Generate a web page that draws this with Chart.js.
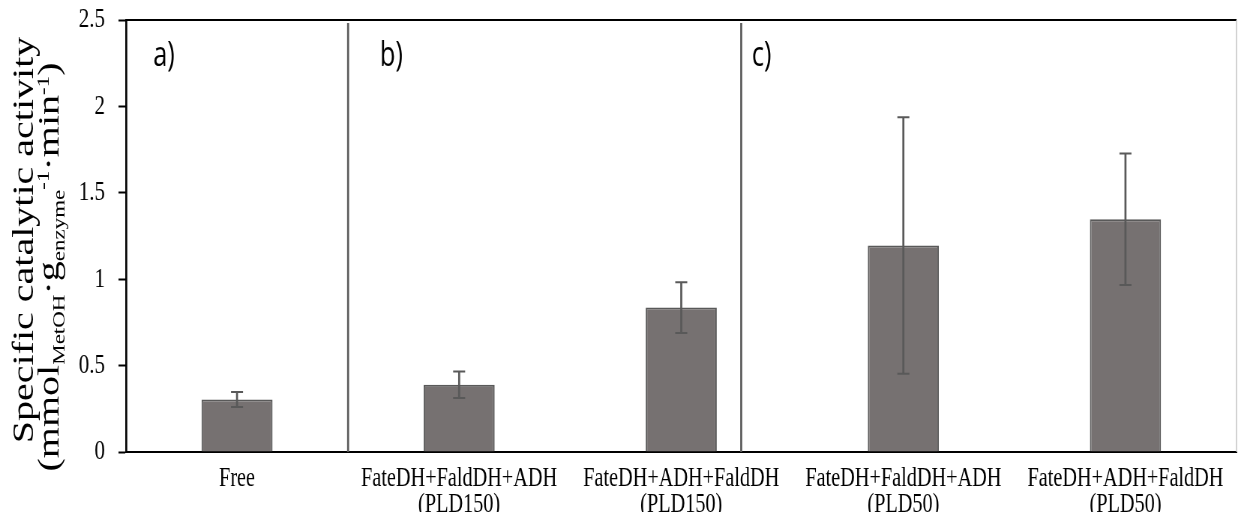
<!DOCTYPE html>
<html>
<head>
<meta charset="utf-8">
<script src="https://cdn.jsdelivr.net/npm/chart.js@4.4.1/dist/chart.umd.min.js"></script>
<style>
  body { margin: 0; background: #fff; overflow: hidden; }
</style>
</head>
<body>
<!-- drawn wide, then squeezed to 1238px like the original figure -->
<canvas id="myChart" width="1651" height="512" style="display:block;width:1238px;height:512px"></canvas>
<script>
var xValues = [
  ["Free"],
  ["FateDH+FaldDH+ADH", "(PLD150)"],
  ["FateDH+ADH+FaldDH", "(PLD150)"],
  ["FateDH+FaldDH+ADH", "(PLD50)"],
  ["FateDH+ADH+FaldDH", "(PLD50)"]
];
var yValues = [0.304, 0.389, 0.836, 1.195, 1.347];
var yErrors = [0.043, 0.077, 0.147, 0.742, 0.38];

// panel separators and letters, in category units
var panelLines = [0.5, 2.27];
var panelNames = ["a)", "b)", "c)"];
var panelNamePos = [-0.378, 0.643, 2.317];

var barColor = "#767171";
var edgeColor = "#595959";
var serif = "'Liberation Serif', 'Times New Roman', serif";

// error bars
const errorBars = {
  id: "errorBars",
  afterDatasetsDraw(chart) {
    const ctx = chart.ctx;
    const y = chart.scales.y;
    const meta = chart.getDatasetMeta(0);
    ctx.save();
    ctx.strokeStyle = edgeColor;
    meta.data.forEach((bar, i) => {
      const top = y.getPixelForValue(yValues[i] + yErrors[i]);
      const bot = y.getPixelForValue(yValues[i] - yErrors[i]);
      ctx.lineWidth = 2.7;
      ctx.beginPath();
      ctx.moveTo(bar.x, top);
      ctx.lineTo(bar.x, bot);
      ctx.stroke();
      ctx.lineWidth = 2;
      ctx.beginPath();
      ctx.moveTo(bar.x - 8, top);
      ctx.lineTo(bar.x + 8, top);
      ctx.moveTo(bar.x - 8, bot);
      ctx.lineTo(bar.x + 8, bot);
      ctx.stroke();
    });
    ctx.restore();
  }
};

// frame, panel lines and a) b) c)
const panels = {
  id: "panels",
  afterDraw(chart) {
    const ctx = chart.ctx;
    const a = chart.chartArea;
    const x = chart.scales.x;
    ctx.save();
    ctx.strokeStyle = "#000";
    ctx.lineWidth = 2;
    ctx.beginPath();
    ctx.moveTo(a.left - 1, a.top);
    ctx.lineTo(a.right, a.top);
    ctx.stroke();
    ctx.strokeStyle = "#bfbfbf";
    ctx.lineWidth = 1.4;
    ctx.beginPath();
    ctx.moveTo(a.right, a.top);
    ctx.lineTo(a.right, a.bottom);
    ctx.stroke();

    ctx.strokeStyle = edgeColor;
    ctx.lineWidth = 2.7;
    panelLines.forEach(v => {
      const px = x.getPixelForValue(v);
      ctx.beginPath();
      ctx.moveTo(px, a.top + 3);
      ctx.lineTo(px, a.bottom);
      ctx.stroke();
    });

    ctx.fillStyle = "#000";
    ctx.font = "34px 'Open Sans', sans-serif";
    ctx.textAlign = "left";
    ctx.textBaseline = "alphabetic";
    panelNames.forEach((t, i) => {
      ctx.fillText(t, x.getPixelForValue(panelNamePos[i]), a.top + 46);
    });
    ctx.restore();
  }
};

// y axis title with sub/superscripts
function drawRotated(ctx, parts, xBase, yMid) {
  ctx.save();
  ctx.translate(xBase, yMid);
  ctx.rotate(-Math.PI / 2);
  ctx.textBaseline = "alphabetic";
  ctx.textAlign = "left";
  let total = 0;
  parts.forEach(p => {
    ctx.font = p.size + "px " + serif;
    total += ctx.measureText(p.t).width;
  });
  let cx = -total / 2;
  parts.forEach(p => {
    ctx.font = p.size + "px " + serif;
    ctx.fillText(p.t, cx, p.dy);
    cx += ctx.measureText(p.t).width;
  });
  ctx.restore();
}

const yTitle = {
  id: "yTitle",
  afterDraw(chart) {
    const ctx = chart.ctx;
    ctx.save();
    ctx.fillStyle = "#000";
    drawRotated(ctx, [{t: "Specific catalytic activity", size: 40, dy: 0}], 44, 240);
    drawRotated(ctx, [
      {t: "(mmol", size: 40, dy: 0},
      {t: "MetOH", size: 23, dy: 8},
      {t: "\u00b7g", size: 40, dy: 0},
      {t: "enzyme", size: 23, dy: 8},
      {t: "-1", size: 23, dy: -13},
      {t: "\u00b7min", size: 40, dy: 0},
      {t: "-1", size: 23, dy: -13},
      {t: ")", size: 40, dy: 0}
    ], 78, 267);
    ctx.restore();
  }
};

new Chart("myChart", {
  type: "bar",
  data: {
    labels: xValues,
    datasets: [{
      data: yValues,
      backgroundColor: barColor,
      borderColor: edgeColor,
      borderWidth: 2,
      barPercentage: 0.32,
      categoryPercentage: 1
    }]
  },
  options: {
    responsive: false,
    maintainAspectRatio: false,
    devicePixelRatio: 1,
    animation: false,
    layout: {padding: {top: 20, right: 2, left: 0, bottom: 0}},
    plugins: {
      legend: {display: false},
      tooltip: {enabled: false}
    },
    scales: {
      x: {
        grid: {display: false, drawTicks: false},
        border: {display: true, color: "#000", width: 2},
        ticks: {
          color: "#000",
          font: {family: serif, size: 27, lineHeight: 0.95},
          padding: 14,
          maxRotation: 0,
          autoSkip: false
        },
        afterFit: s => { s.height = 60; s.paddingLeft = 0; s.paddingRight = 0; }
      },
      y: {
        min: 0,
        max: 2.5,
        grid: {drawOnChartArea: false, drawTicks: true, tickLength: 10, tickColor: "#000", tickWidth: 2},
        border: {display: true, color: "#000", width: 2.7},
        ticks: {
          stepSize: 0.5,
          color: "#000",
          font: {family: serif, size: 28},
          padding: 18,
          callback: v => String(v)
        },
        afterFit: s => { s.width = 168; s.paddingTop = 0; s.paddingBottom = 0; }
      }
    }
  },
  plugins: [errorBars, panels, yTitle]
});
</script>
</body>
</html>
